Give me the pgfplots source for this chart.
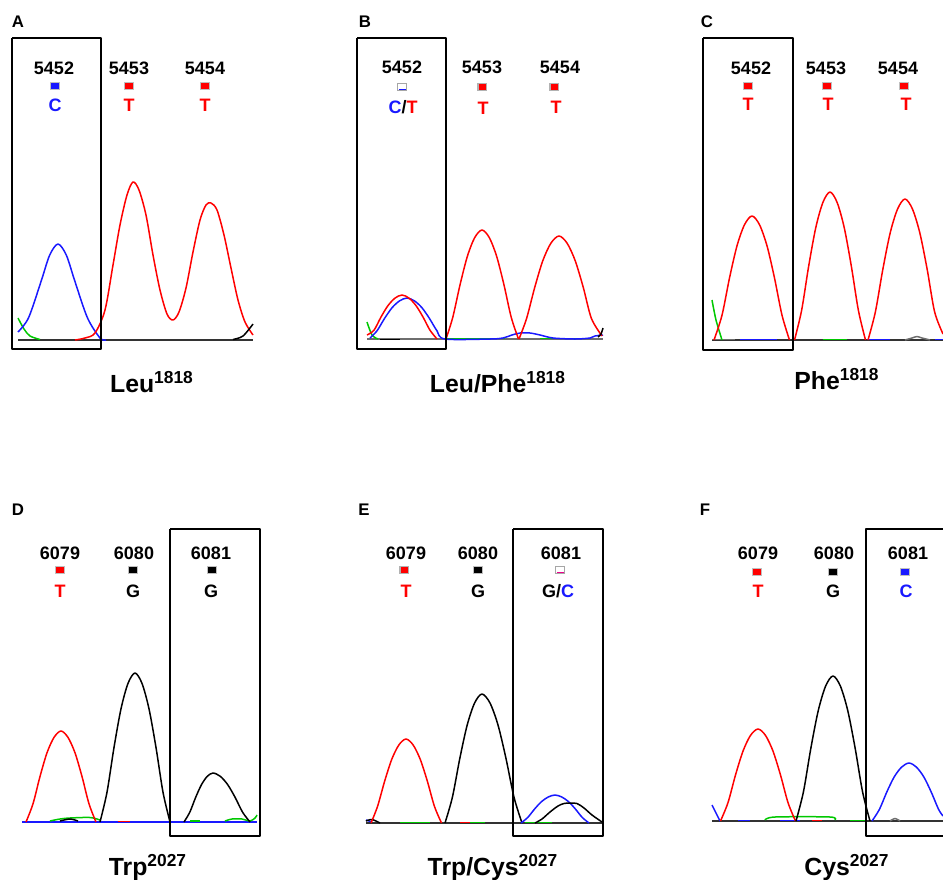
\documentclass[border=0pt]{standalone}
\usepackage{pgfplots}
\pgfplotsset{compat=1.18}
\usepackage{fontspec}
\setmainfont{Liberation Sans}
\definecolor{tr}{RGB}{255,0,0}
\definecolor{tb}{RGB}{25,25,255}
\definecolor{tg}{RGB}{0,200,0}
\definecolor{tgr}{RGB}{110,110,110}
\tikzset{
  lbl/.style={font=\fontsize{9}{10}\selectfont\bfseries, inner sep=0pt},
  pnl/.style={font=\fontsize{8.4}{9}\selectfont\bfseries, inner sep=0pt},
  ttl/.style={font=\fontsize{12.4}{14}\selectfont\bfseries, inner sep=0pt, anchor=base},
  sq/.style={minimum width=4.2pt, minimum height=3.6pt, inner sep=0pt, draw=black!25, line width=0.4pt},
}
\begin{document}
\begin{tikzpicture}
\begin{axis}[name=ax, x=0.5pt, y=0.5pt, y dir=reverse,
  xmin=0, xmax=943, ymin=0, ymax=879,
  axis line style={draw=none}, xtick=\empty, ytick=\empty, clip=false,
  every axis plot/.append style={line width=0.75pt, line join=round, no markers}]

% ================= Panel A =================
\addplot[black!80, sharp plot] coordinates {(18,340)(253,340)};
\addplot[tg, smooth] coordinates {(18,318)(24,329)(30,336)(40,339.5)};
\addplot[tb, smooth] coordinates {(18,332)(28.6,317.7)(41.2,281)(49.6,255.3)(58,244)(66.4,255.3)(74.8,281)(87.4,317.7)(100,338)(106,340)};
\addplot[tr, smooth] coordinates {(75,340)(85,338)(95,333)(105,310)(113,265)(120,225)(127,195)(133,182)(139,190)(146,215)(153,255)(160,290)(167,314)(173,320)(179,312)(186,288)(193,252)(200,220)(206,205)(211,203)(217,210)(224,235)(231,268)(238,300)(245,322)(253,335)};
\addplot[black, smooth] coordinates {(233,339.5)(243,336)(253,324)};
\addplot[black, line width=1pt, sharp plot] coordinates {(12.3,37.7)(100.7,37.7)(100.7,349.3)(12.3,349.3)(12.3,37.7)};
\node[pnl] at (axis cs:18,22) {A};
\node[lbl] at (axis cs:54,68) {5452};
\node[lbl] at (axis cs:129,68) {5453};
\node[lbl] at (axis cs:205,68) {5454};
\node[sq, fill=tb] at (axis cs:55,86) {};
\node[sq, fill=tr] at (axis cs:129,86) {};
\node[sq, fill=tr] at (axis cs:205,86) {};
\node[lbl, text=tb] at (axis cs:55,105) {C};
\node[lbl, text=tr] at (axis cs:129,105) {T};
\node[lbl, text=tr] at (axis cs:205,105) {T};
\node[ttl] at (axis cs:152,392) {Leu\textsuperscript{1818}};

% ================= Panel B =================
\addplot[tgr, sharp plot] coordinates {(367,339)(603,339)};
\addplot[tg, sharp plot] coordinates {(446,338.3)(505,338.3)};
\addplot[tg, sharp plot] coordinates {(540,338.3)(590,338.3)};
\addplot[black, sharp plot] coordinates {(380,339.5)(400,339.5)};
\addplot[tg, smooth] coordinates {(367,322)(372,335)(378,339)};
\addplot[tb, smooth] coordinates {(370,338)(377,330.8)(384.5,318.5)(392,307.8)(399.5,300.9)(407,298)(414.5,300.9)(422,307.8)(429.5,318.5)(437,330.8)(445,339)(490,339)(503,338)(512,335)(520,333)(530,333)(540,335)(553,338)(575,339)(590,338)(595,336)(603,335)};
\addplot[tr, smooth] coordinates {(367,335)(374,330.2)(381,317)(388,305.6)(395,298.1)(402,295)(409,298.1)(416,305.6)(423,317)(430,330.2)(437,339)};
\addplot[tr, smooth] coordinates {(446,339)(452.8,317.2)(460.1,284.5)(467.4,256.2)(474.7,237.6)(482,230)(489.3,237.6)(496.6,256.2)(503.9,284.5)(511.2,317.2)(518.5,339)};
\addplot[tr, smooth] coordinates {(519,339)(526.6,318.4)(534.7,287.5)(542.8,260.7)(550.9,243.2)(559,236)(567.1,243.2)(575.2,260.7)(583.3,287.5)(591.4,318.4)(602,336)};
\addplot[black, smooth] coordinates {(598,337)(601,334)(603,328)};
\addplot[black, line width=1pt, sharp plot] coordinates {(357.3,37.7)(446,37.7)(446,349.3)(357.3,349.3)(357.3,37.7)};
\node[pnl] at (axis cs:365,22) {B};
\node[lbl] at (axis cs:402,67) {5452};
\node[lbl] at (axis cs:482,67) {5453};
\node[lbl] at (axis cs:560,67) {5454};
\node[sq, fill=white, draw=black!35] at (axis cs:402,87) {};
\draw[tb, line width=0.6pt] (axis cs:398.5,89.3) -- (axis cs:405.5,89.3);
\node[sq, fill=tr, draw=black!30, line width=0.7pt] at (axis cs:482,87) {};
\node[sq, fill=tr, draw=black!30, line width=0.7pt] at (axis cs:554,87) {};
\node[lbl] at (axis cs:403,107) {\textcolor{tb}{C}/\textcolor{tr}{T}};
\node[lbl, text=tr] at (axis cs:483,108) {T};
\node[lbl, text=tr] at (axis cs:556,107) {T};
\node[ttl] at (axis cs:498,392) {Leu/Phe\textsuperscript{1818}};

% ================= Panel C =================
\addplot[black!80, sharp plot] coordinates {(712,340)(943,340)};
\addplot[tb, sharp plot] coordinates {(740,339.5)(777,339.5)};
\addplot[tg, sharp plot] coordinates {(823,339.5)(847,339.5)};
\addplot[tb, sharp plot] coordinates {(867,339.5)(890,339.5)};
\addplot[tb, sharp plot] coordinates {(935,339.5)(943,339.5)};
\addplot[tgr, sharp plot] coordinates {(712,339.3)(735,339.3)};
\addplot[tg, smooth] coordinates {(712,300)(716,320)(722,340)};
\addplot[tgr, smooth] coordinates {(905,340)(912,338)(917,336.5)(922,338)(930,340)};
\addplot[tr, smooth] coordinates {(714,340)(722,315.2)(729.5,278)(737,245.8)(744.5,224.7)(752,216)(759.5,224.7)(767,245.8)(774.5,278)(782,315.2)(789.5,340)};
\addplot[tr, smooth] coordinates {(794.5,340)(801.6,310.4)(808.7,266)(815.8,227.5)(822.9,202.4)(830,192)(837.1,202.4)(844.2,227.5)(851.3,266)(858.4,310.4)(865.5,340)};
\addplot[tr, smooth] coordinates {(868,340)(875.4,311.8)(882.8,269.5)(890.2,232.8)(897.6,208.9)(905,199)(912.4,208.9)(919.8,232.8)(927.2,269.5)(934.6,311.8)(943,334)};
\addplot[black, line width=1pt, sharp plot] coordinates {(703.3,38.3)(792.7,38.3)(792.7,350)(703.3,350)(703.3,38.3)};
\node[pnl] at (axis cs:707,22) {C};
\node[lbl] at (axis cs:751,68) {5452};
\node[lbl] at (axis cs:826,68) {5453};
\node[lbl] at (axis cs:898,68) {5454};
\node[sq, fill=tr] at (axis cs:748,86) {};
\node[sq, fill=tr] at (axis cs:827,86) {};
\node[sq, fill=tr] at (axis cs:904,86) {};
\node[lbl, text=tr] at (axis cs:748,104) {T};
\node[lbl, text=tr] at (axis cs:828,104) {T};
\node[lbl, text=tr] at (axis cs:906,104) {T};
\node[ttl] at (axis cs:837,389) {Phe\textsuperscript{1818}};

% ================= Panel D =================
\addplot[tb, sharp plot] coordinates {(22,822)(257,822)};
\addplot[tg, smooth] coordinates {(50,821)(60,819)(70,818)(90,817.5)(100,820)};
\addplot[black, smooth] coordinates {(60,821)(70,819)(78,821)};
\addplot[tr, sharp plot] coordinates {(118,821.5)(130,821.5)};
\addplot[tg, sharp plot] coordinates {(190,821)(200,821)};
\addplot[tg, smooth] coordinates {(225,821)(232,819)(242,819)(250,821)(255,818)(257,815)};
\addplot[tr, smooth] coordinates {(26,822)(33,803.8)(40,776.5)(47,752.8)(54,737.4)(61,731)(68,737.4)(75,752.8)(82,776.5)(89,803.8)(96,822)};
\addplot[black, smooth] coordinates {(100,822)(107,792.2)(114,747.5)(121,708.8)(128,683.4)(135,673)(142,683.4)(149,708.8)(156,747.5)(163,792.2)(170,822)};
\addplot[black, smooth] coordinates {(184,822)(189.8,812.2)(195.6,797.5)(201.4,784.8)(207.2,776.4)(213,773)(220.4,776.4)(227.8,784.8)(235.2,797.5)(242.6,812.2)(250,822)};
\addplot[black, line width=1pt, sharp plot] coordinates {(170,529.3)(260,529.3)(260,836)(170,836)(170,529.3)};
\node[pnl] at (axis cs:18,510) {D};
\node[lbl] at (axis cs:60,553) {6079};
\node[lbl] at (axis cs:134,553) {6080};
\node[lbl] at (axis cs:211,553) {6081};
\node[sq, fill=tr] at (axis cs:60,570) {};
\node[sq, fill=black] at (axis cs:133,570) {};
\node[sq, fill=black] at (axis cs:212,570) {};
\node[lbl, text=tr] at (axis cs:60,591) {T};
\node[lbl] at (axis cs:133,591) {G};
\node[lbl] at (axis cs:211,591) {G};
\node[ttl] at (axis cs:148,875) {Trp\textsuperscript{2027}};

% ================= Panel E =================
\addplot[black!80, sharp plot] coordinates {(366,823)(602,823)};
\addplot[tg, sharp plot] coordinates {(400,822.3)(430,822.3)};
\addplot[tr, sharp plot] coordinates {(460,822.3)(470,822.3)};
\addplot[tg, sharp plot] coordinates {(470,822.3)(485,822.3)};
\addplot[tg, sharp plot] coordinates {(525,822.3)(552,822.3)};
\addplot[tb, sharp plot] coordinates {(366,820)(372,822)};
\addplot[black, smooth] coordinates {(366,821)(372,819.5)(380,823)};
\addplot[tr, smooth] coordinates {(371,823)(377.6,806.2)(384.7,781)(391.8,759.2)(398.9,744.9)(406,739)(413.1,744.9)(420.2,759.2)(427.3,781)(434.4,806.2)(441.5,823)};
\addplot[black, smooth] coordinates {(445,823)(452.4,797.2)(459.8,758.5)(467.2,725)(474.6,703)(482,694)(490,703)(498,725)(506,758.5)(514,797.2)(522,823)};
\addplot[tb, smooth] coordinates {(521,823)(527.8,817.4)(534.6,809)(541.4,801.7)(548.2,797)(555,795)(561.8,797)(568.6,801.7)(575.4,809)(582.2,817.4)(589,823)};
\addplot[black, smooth] coordinates {(535,823)(542,819)(550,812)(558,806)(564,803.5)(570,803)(577,803.5)(584,808)(592,815)(602,822)};
\addplot[black, line width=1pt, sharp plot] coordinates {(513.3,529.3)(603.3,529.3)(603.3,836)(513.3,836)(513.3,529.3)};
\node[pnl] at (axis cs:364,510) {E};
\node[lbl] at (axis cs:406,553) {6079};
\node[lbl] at (axis cs:478,553) {6080};
\node[lbl] at (axis cs:561,553) {6081};
\node[sq, fill=tr, draw=black!30, line width=0.7pt] at (axis cs:404,570) {};
\node[sq, fill=black] at (axis cs:478,570) {};
\node[sq, fill=white, draw=black!35] at (axis cs:560,570) {};
\draw[magenta, line width=0.6pt] (axis cs:556.5,572.3) -- (axis cs:563.5,572.3);
\node[lbl, text=tr] at (axis cs:406,591) {T};
\node[lbl] at (axis cs:478,591) {G};
\node[lbl] at (axis cs:558,591) {G/\textcolor{tb}{C}};
\node[ttl] at (axis cs:493,875) {Trp/Cys\textsuperscript{2027}};

% ================= Panel F =================
\addplot[black!80, sharp plot] coordinates {(712,821)(943,821)};
\addplot[tb, sharp plot] coordinates {(738,820.5)(750,820.5)};
\addplot[tb, sharp plot] coordinates {(780,820.5)(800,820.5)};
\addplot[tr, sharp plot] coordinates {(812,820.5)(822,820.5)};
\addplot[tg, sharp plot] coordinates {(850,820.5)(866,820.5)};
\addplot[tg, smooth] coordinates {(765,820)(775,817)(830,817)(835,820)};
\addplot[tgr, smooth] coordinates {(890,821)(895,818.5)(900,821)};
\addplot[tb, smooth] coordinates {(712,805)(716,813)(720,821)};
\addplot[tr, smooth] coordinates {(720.5,821)(728,802.6)(735.5,775)(743,751.1)(750.5,735.4)(758,729)(765.5,735.4)(773,751.1)(780.5,775)(788,802.6)(795.5,821)};
\addplot[black, smooth] coordinates {(796,821)(803.4,792)(810.8,748.5)(818.2,710.8)(825.6,686.1)(833,676)(840.4,686.1)(847.8,710.8)(855.2,748.5)(862.6,792)(870,821)};
\addplot[tb, smooth] coordinates {(872,821)(879.4,809.4)(886.8,792)(894.2,776.9)(901.6,767.1)(909,763)(916.4,767.1)(923.8,776.9)(931.2,792)(938.6,809.4)(943,816)};
\addplot[black, line width=1pt, sharp plot] coordinates {(943,529.3)(866,529.3)(866,836)(943,836)};
\node[pnl] at (axis cs:705,510) {F};
\node[lbl] at (axis cs:758,553) {6079};
\node[lbl] at (axis cs:834,553) {6080};
\node[lbl] at (axis cs:908,553) {6081};
\node[sq, fill=tr] at (axis cs:757,572) {};
\node[sq, fill=black] at (axis cs:833,572) {};
\node[sq, fill=tb] at (axis cs:905,572) {};
\node[lbl, text=tr] at (axis cs:758,591) {T};
\node[lbl] at (axis cs:833,591) {G};
\node[lbl, text=tb] at (axis cs:906,591) {C};
\node[ttl] at (axis cs:847,875) {Cys\textsuperscript{2027}};
\end{axis}
\pgfresetboundingbox
\useasboundingbox (ax.south west) rectangle (ax.north east);
\end{tikzpicture}
\end{document}
